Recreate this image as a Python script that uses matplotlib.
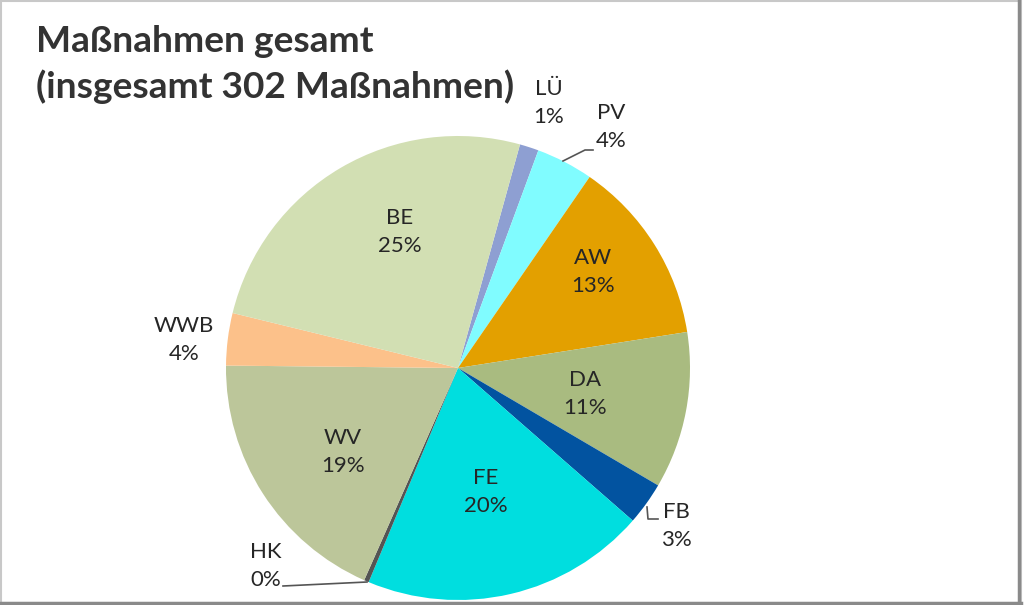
import matplotlib
matplotlib.use("Agg")
import matplotlib.pyplot as plt
from matplotlib.patches import Rectangle

# Anzahl der Maßnahmen je Kategorie (insgesamt 302), im Uhrzeigersinn
categories = ["LÜ", "PV", "AW", "DA", "FB", "FE", "HK", "WV", "WWB", "BE"]
counts = [4, 12, 39, 33, 9, 60, 1, 56, 11, 77]
colors = ["#8E9FD2", "#80FCFF", "#E3A000", "#A9BB80", "#0253A0",
          "#00DEDF", "#545454", "#BCC69A", "#FCC18A", "#D2DFB3"]

total = sum(counts)
pct_labels = [f"{c}\n{round(100 * v / total)}%" for c, v in zip(categories, counts)]

# label centres in pixels (x, y from top), Excel-style placement
label_pos = {
    "LÜ": (549, 103), "PV": (611, 127), "AW": (593, 272), "DA": (585, 394),
    "FB": (676, 526), "FE": (486, 492), "HK": (266, 566), "WV": (343, 452),
    "WWB": (184, 340), "BE": (400, 232),
}
# leader lines (pixels, y from top)
leaders = {
    "PV": [(563, 161), (585, 150), (593, 150)],
    "FB": [(647, 507), (648, 519), (658, 519)],
    "HK": [(367, 582), (283, 586)],
}

W, H = 1024, 605
fig = plt.figure(figsize=(W / 100, H / 100), dpi=100)
ax = fig.add_axes([0, 0, 1, 1])

ax.pie(counts, colors=colors, center=(458, H - 368), radius=232,
       startangle=90 - 15.5, counterclock=False,
       wedgeprops=dict(linewidth=0), frame=True)
ax.set_xlim(0, W)
ax.set_ylim(0, H)
ax.axis("off")

for cat, lab in zip(categories, pct_labels):
    x, y = label_pos[cat]
    ax.text(x, H - y, lab, ha="center", va="center", fontsize=16,
            family="Lato", color="#262626", linespacing=1.45)

for pts in leaders.values():
    ax.plot([p[0] for p in pts], [H - p[1] for p in pts],
            color="#555555", linewidth=1.2)

ax.text(36, H - 25, "Maßnahmen gesamt\n(insgesamt 302 Maßnahmen)",
        ha="left", va="top", fontsize=26.7, fontweight="bold", family="Lato",
        color="#333333", linespacing=1.4)

# frame with shadow at right / bottom
fig.patches.append(Rectangle((0.001, 0.004), 0.996, 0.994, transform=fig.transFigure,
                             fill=False, edgecolor="#c8c8c8", linewidth=1.5))
fig.add_artist(plt.Line2D([1019 / W, 1019 / W], [3 / H, 1], color="#8a8a8a",
                          linewidth=2.5, transform=fig.transFigure))
fig.add_artist(plt.Line2D([0, 1021 / W], [2 / H, 2 / H], color="#8a8a8a",
                          linewidth=2.5, transform=fig.transFigure))

fig.savefig("out.png", dpi=100)
